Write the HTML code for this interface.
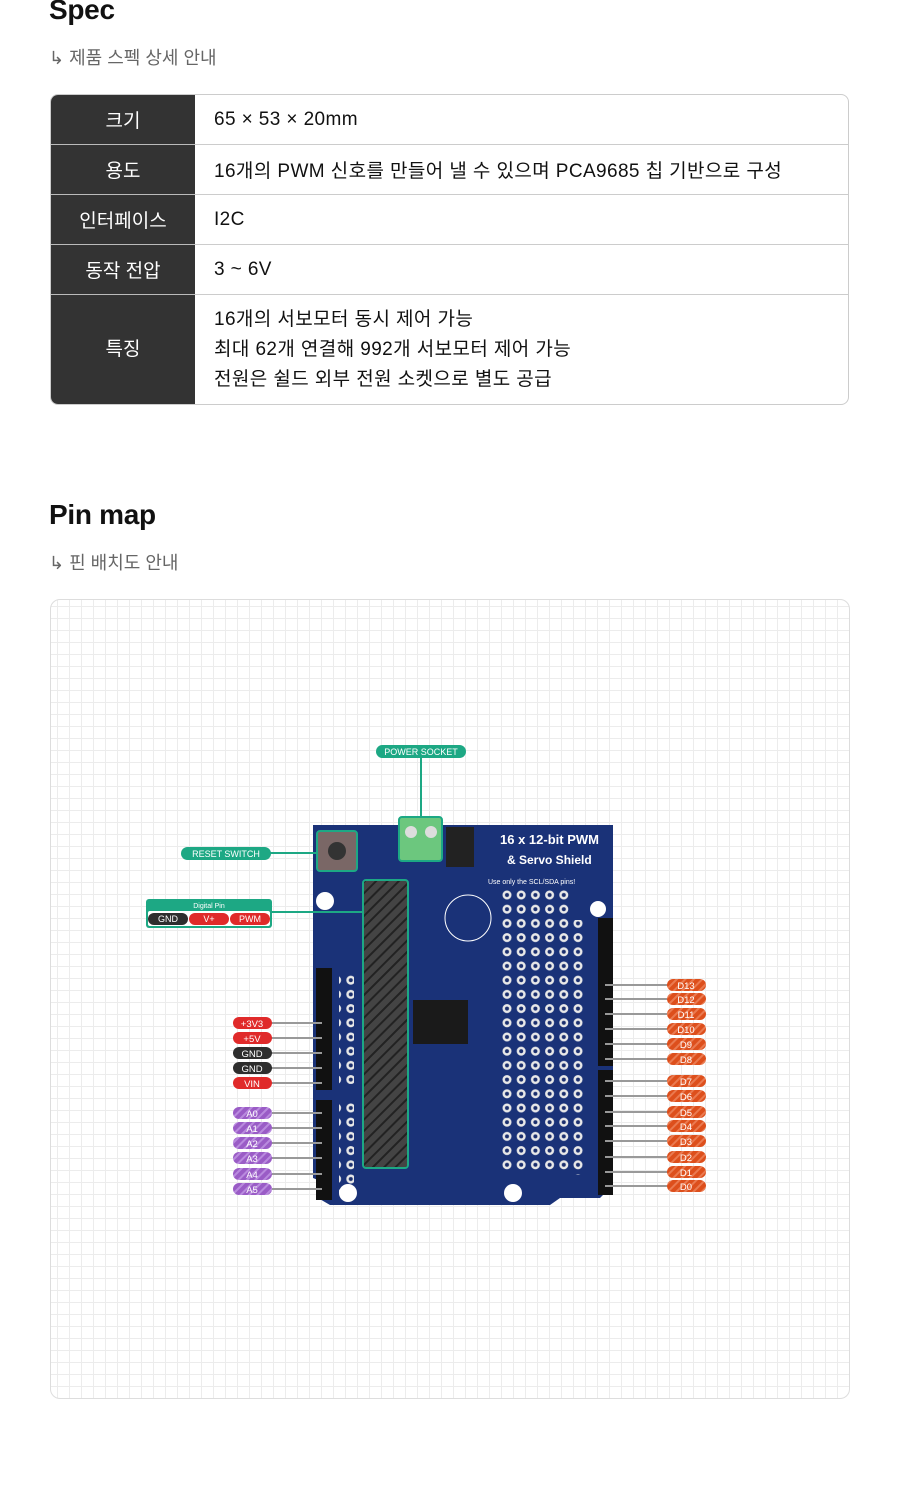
<!DOCTYPE html>
<html><head><meta charset="utf-8">
<style>
*{margin:0;padding:0;box-sizing:border-box}
body{width:900px;height:1491px;background:#fff;font-family:"Liberation Sans","Noto Sans CJK KR",sans-serif;position:relative;overflow:hidden;color:#111}
h2{position:absolute;left:49px;font-size:28px;font-weight:700;letter-spacing:-0.3px}
.sub{position:absolute;left:49px;font-size:18px;color:#666}
table{position:absolute;left:50px;top:94px;width:799px;border-collapse:separate;border-spacing:0;border:1px solid #ccc;border-radius:8px;overflow:hidden;font-size:19px;letter-spacing:0.4px}
td{border-bottom:1px solid #ccc;height:50px;padding-left:19px}
tr:last-child td{border-bottom:none}
td.h{background:#333;color:#fff;width:144px;text-align:center;padding:0;border-bottom:1px solid #bbb;letter-spacing:0}
.multi td{height:109px;line-height:30px}
.panel{position:absolute;left:50px;top:599px;width:800px;height:800px;border:1px solid #ddd;border-radius:10px;
background-color:#fff;
background-image:linear-gradient(to right,#ececec 1px,transparent 1px),linear-gradient(to bottom,#ececec 1px,transparent 1px);
background-size:12px 12px;background-position:6px 6px}
svg{position:absolute;left:0;top:0}
</style></head><body>
<h2 style="top:-6px">Spec</h2>
<div class="sub" style="top:44px">↳ 제품 스펙 상세 안내</div>
<table>
<tr><td class="h">크기</td><td>65 × 53 × 20mm</td></tr>
<tr><td class="h">용도</td><td>16개의 PWM 신호를 만들어 낼 수 있으며 PCA9685 칩 기반으로 구성</td></tr>
<tr><td class="h">인터페이스</td><td>I2C</td></tr>
<tr><td class="h">동작 전압</td><td>3 ~ 6V</td></tr>
<tr class="multi"><td class="h">특징</td><td>16개의 서보모터 동시 제어 가능<br>최대 62개 연결해 992개 서보모터 제어 가능<br>전원은 쉴드 외부 전원 소켓으로 별도 공급</td></tr>
</table>
<h2 style="top:499px">Pin map</h2>
<div class="sub" style="top:549px">↳ 핀 배치도 안내</div>
<div class="panel"></div>
<svg width="900" height="1491" viewBox="0 0 900 1491" font-family="Liberation Sans, sans-serif">
<defs>
<pattern id="holes" x="500" y="888" width="14.2" height="14.2" patternUnits="userSpaceOnUse">
<circle cx="7" cy="7" r="4.5" fill="#e8e8e8"/><circle cx="7" cy="7" r="2" fill="#1b2f6e"/></pattern>
<pattern id="stripe" width="8" height="8" patternUnits="userSpaceOnUse" patternTransform="rotate(45)">
<rect width="8" height="8" fill="#444"/><rect width="2" height="8" fill="#222"/></pattern>
<pattern id="pstripe" width="6" height="6" patternUnits="userSpaceOnUse" patternTransform="rotate(45)">
<rect width="6" height="6" fill="#9a5cc6"/><rect width="2" height="6" fill="#b98ade"/></pattern>
<pattern id="ostripe" width="6" height="6" patternUnits="userSpaceOnUse" patternTransform="rotate(45)">
<rect width="6" height="6" fill="#dd4f1c"/><rect width="2" height="6" fill="#ea7a50"/></pattern>
</defs>
<path d="M313 825 H613 V1185 L600 1198 H560 L550 1205 H330 L318 1198 V1180 L313 1178 Z" fill="#1a3278"/>
<rect x="500" y="888" width="71" height="284" fill="url(#holes)"/>
<rect x="571" y="920" width="15" height="255" fill="url(#holes)"/>
<rect x="339" y="974" width="15" height="110" fill="url(#holes)"/>
<rect x="339" y="1103" width="15" height="90" fill="url(#holes)"/>
<text x="500" y="844" fill="#fff" font-size="13" font-weight="bold">16 x 12-bit PWM</text>
<text x="507" y="864" fill="#fff" font-size="12" font-weight="bold">&amp; Servo  Shield</text>
<text x="488" y="884" fill="#fff" font-size="7">Use only the SCL/SDA pins!</text>
<circle cx="325" cy="901" r="9" fill="#fff"/><circle cx="598" cy="909" r="8" fill="#fff"/>
<circle cx="348" cy="1193" r="9" fill="#fff"/><circle cx="513" cy="1193" r="9" fill="#fff"/>
<circle cx="468" cy="918" r="23" fill="none" stroke="#fff" stroke-width="1"/>
<rect x="446" y="827" width="28" height="40" fill="#222"/>
<rect x="413" y="1000" width="55" height="44" fill="#1a1a1a"/>
<rect x="598" y="918" width="15" height="148" fill="#111"/>
<rect x="598" y="1070" width="15" height="125" fill="#111"/>
<rect x="316" y="968" width="16" height="122" fill="#111"/>
<rect x="316" y="1100" width="16" height="100" fill="#111"/>
<rect x="363" y="880" width="45" height="288" rx="3" fill="url(#stripe)" stroke="#1da884" stroke-width="2"/>
<rect x="317" y="831" width="40" height="40" rx="3" fill="#7a6766" stroke="#1da884" stroke-width="2"/>
<circle cx="337" cy="851" r="9" fill="#333"/>
<rect x="399" y="817" width="43" height="44" rx="3" fill="#6cc77e" stroke="#1da884" stroke-width="2"/>
<circle cx="411" cy="832" r="6" fill="#ddd"/><circle cx="431" cy="832" r="6" fill="#ddd"/>
<g fill="#1da884">
<line x1="421" y1="757" x2="421" y2="817" stroke="#1da884" stroke-width="2"/>
<rect x="376" y="745" width="90" height="13" rx="6.5"/>
<line x1="270" y1="853" x2="317" y2="853" stroke="#1da884" stroke-width="2"/>
<rect x="181" y="847" width="90" height="13" rx="6.5"/>
<line x1="270" y1="912" x2="363" y2="912" stroke="#1da884" stroke-width="2"/>
<rect x="146" y="899" width="126" height="29" rx="3"/>
<rect x="148" y="911" width="122" height="15" rx="2" fill="#fff"/>
</g>
<rect x="148" y="913" width="40" height="12" rx="6" fill="#2e2e2e"/>
<rect x="189" y="913" width="40" height="12" rx="6" fill="#e02a2a"/>
<rect x="230" y="913" width="40" height="12" rx="6" fill="#e02a2a"/>
<g fill="#fff" font-size="9" text-anchor="middle">
<text x="421" y="755">POWER SOCKET</text>
<text x="226" y="857">RESET SWITCH</text>
<text x="209" y="908" font-size="7">Digital Pin</text>
<text x="168" y="922">GND</text><text x="209" y="922">V+</text><text x="250" y="922">PWM</text>
</g>
<g stroke="#999" stroke-width="2">
<line x1="270" y1="1023" x2="322" y2="1023"/><line x1="270" y1="1038" x2="322" y2="1038"/>
<line x1="270" y1="1053" x2="322" y2="1053"/><line x1="270" y1="1068" x2="322" y2="1068"/>
<line x1="270" y1="1083" x2="322" y2="1083"/>
<line x1="270" y1="1113" x2="322" y2="1113"/><line x1="270" y1="1128" x2="322" y2="1128"/>
<line x1="270" y1="1143" x2="322" y2="1143"/><line x1="270" y1="1158" x2="322" y2="1158"/>
<line x1="270" y1="1174" x2="322" y2="1174"/><line x1="270" y1="1189" x2="322" y2="1189"/>
<line x1="605" y1="985" x2="668" y2="985"/><line x1="605" y1="999" x2="668" y2="999"/>
<line x1="605" y1="1014" x2="668" y2="1014"/><line x1="605" y1="1029" x2="668" y2="1029"/>
<line x1="605" y1="1044" x2="668" y2="1044"/><line x1="605" y1="1059" x2="668" y2="1059"/>
<line x1="605" y1="1081" x2="668" y2="1081"/><line x1="605" y1="1096" x2="668" y2="1096"/>
<line x1="605" y1="1112" x2="668" y2="1112"/><line x1="605" y1="1126" x2="668" y2="1126"/>
<line x1="605" y1="1141" x2="668" y2="1141"/><line x1="605" y1="1157" x2="668" y2="1157"/>
<line x1="605" y1="1172" x2="668" y2="1172"/><line x1="605" y1="1186" x2="668" y2="1186"/>
</g>
<g font-size="9.5" text-anchor="middle" fill="#fff">
<rect x="233" y="1017" width="39" height="12" rx="6" fill="#e02a2a"/><text x="252" y="1027">+3V3</text>
<rect x="233" y="1032" width="39" height="12" rx="6" fill="#e02a2a"/><text x="252" y="1042">+5V</text>
<rect x="233" y="1047" width="39" height="12" rx="6" fill="#2e2e2e"/><text x="252" y="1057">GND</text>
<rect x="233" y="1062" width="39" height="12" rx="6" fill="#2e2e2e"/><text x="252" y="1072">GND</text>
<rect x="233" y="1077" width="39" height="12" rx="6" fill="#e02a2a"/><text x="252" y="1087">VIN</text>
<rect x="233" y="1107" width="39" height="12" rx="6" fill="url(#pstripe)"/><text x="252" y="1117">A0</text>
<rect x="233" y="1122" width="39" height="12" rx="6" fill="url(#pstripe)"/><text x="252" y="1132">A1</text>
<rect x="233" y="1137" width="39" height="12" rx="6" fill="url(#pstripe)"/><text x="252" y="1147">A2</text>
<rect x="233" y="1152" width="39" height="12" rx="6" fill="url(#pstripe)"/><text x="252" y="1162">A3</text>
<rect x="233" y="1168" width="39" height="12" rx="6" fill="url(#pstripe)"/><text x="252" y="1178">A4</text>
<rect x="233" y="1183" width="39" height="12" rx="6" fill="url(#pstripe)"/><text x="252" y="1193">A5</text>
<rect x="667" y="979" width="39" height="12" rx="6" fill="url(#ostripe)"/><text x="686" y="989">D13</text>
<rect x="667" y="993" width="39" height="12" rx="6" fill="url(#ostripe)"/><text x="686" y="1003">D12</text>
<rect x="667" y="1008" width="39" height="12" rx="6" fill="url(#ostripe)"/><text x="686" y="1018">D11</text>
<rect x="667" y="1023" width="39" height="12" rx="6" fill="url(#ostripe)"/><text x="686" y="1033">D10</text>
<rect x="667" y="1038" width="39" height="12" rx="6" fill="url(#ostripe)"/><text x="686" y="1048">D9</text>
<rect x="667" y="1053" width="39" height="12" rx="6" fill="url(#ostripe)"/><text x="686" y="1063">D8</text>
<rect x="667" y="1075" width="39" height="12" rx="6" fill="url(#ostripe)"/><text x="686" y="1085">D7</text>
<rect x="667" y="1090" width="39" height="12" rx="6" fill="url(#ostripe)"/><text x="686" y="1100">D6</text>
<rect x="667" y="1106" width="39" height="12" rx="6" fill="url(#ostripe)"/><text x="686" y="1116">D5</text>
<rect x="667" y="1120" width="39" height="12" rx="6" fill="url(#ostripe)"/><text x="686" y="1130">D4</text>
<rect x="667" y="1135" width="39" height="12" rx="6" fill="url(#ostripe)"/><text x="686" y="1145">D3</text>
<rect x="667" y="1151" width="39" height="12" rx="6" fill="url(#ostripe)"/><text x="686" y="1161">D2</text>
<rect x="667" y="1166" width="39" height="12" rx="6" fill="url(#ostripe)"/><text x="686" y="1176">D1</text>
<rect x="667" y="1180" width="39" height="12" rx="6" fill="url(#ostripe)"/><text x="686" y="1190">D0</text>
</g>
</svg>
</body></html>
